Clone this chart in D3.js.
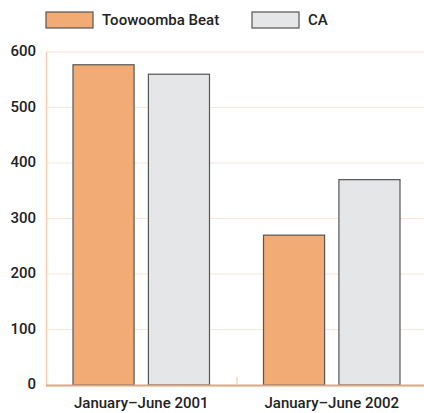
<!DOCTYPE html>
<html>
<head>
<meta charset="utf-8">
<script src="https://cdn.jsdelivr.net/npm/d3@7"></script>
<style>
  html, body { margin: 0; padding: 0; background: #fff; }
  svg { display: block; font-family: Roboto, "DejaVu Sans Condensed", sans-serif; }
</style>
</head>
<body>
<svg id="chart" width="424" height="413"></svg>
<script>
// Periods on the x axis
const periods = ["January–June 2001", "January–June 2002"];
// Series names and their values per period
const seriesNames = ["Toowoomba Beat", "CA"];
const toowoombaBeat = [577, 270];
const ca = [560, 370];
// Y axis tick values
const yTicks = [0, 100, 200, 300, 400, 500, 600];

const colors = ["#F2AB74", "#E5E6E8"];
const fontSize = 15;

const svg = d3.select("#chart");
const margin = { left: 46, top: 52, bottom: 385 };
const rightEdge = 427;

const x0 = d3.scaleBand().domain(periods).range([margin.left, rightEdge]).paddingInner(0).paddingOuter(0);
const x1 = d3.scaleBand().domain(seriesNames).range([27, x0.bandwidth() - 27]).paddingInner(0.19);
const y = d3.scaleLinear().domain([0, 600]).range([margin.bottom, margin.top]);

// Horizontal grid lines
svg.append("g")
  .selectAll("line")
  .data(yTicks.filter(d => d > 0))
  .join("line")
  .attr("x1", margin.left)
  .attr("x2", 424)
  .attr("y1", d => y(d))
  .attr("y2", d => y(d))
  .attr("stroke", "#FCE6D8")
  .attr("stroke-width", 1.2);

// Y axis line
svg.append("line")
  .attr("x1", margin.left + 0.5).attr("x2", margin.left + 0.5)
  .attr("y1", y(600)).attr("y2", y(0))
  .attr("stroke", "#F8CFAE").attr("stroke-width", 1.5);

// Y tick labels
const yAxis = d3.axisLeft(y).tickValues(yTicks).tickSize(0).tickPadding(10);
const gy = svg.append("g").attr("transform", `translate(${margin.left},0)`).call(yAxis);
gy.select(".domain").remove();
gy.selectAll("text")
  .attr("font-size", fontSize)
  .attr("font-weight", 500)
  .attr("fill", "#222")
  .attr("dy", "0.25em")
  .attr("font-family", "Roboto, sans-serif");

// Bars
const data = periods.map((p, i) => ({ period: p, values: [toowoombaBeat[i], ca[i]] }));
const groups = svg.append("g")
  .selectAll("g")
  .data(data)
  .join("g")
  .attr("transform", d => `translate(${x0(d.period)},0)`);

groups.selectAll("rect")
  .data(d => d.values.map((v, j) => ({ name: seriesNames[j], value: v, j })))
  .join("rect")
  .attr("x", d => x1(d.name))
  .attr("width", x1.bandwidth())
  .attr("y", d => y(d.value))
  .attr("height", d => y(0) - y(d.value))
  .attr("fill", d => colors[d.j])
  .attr("stroke", "#555")
  .attr("stroke-width", 1.2);

// Baseline and category separator tick
svg.append("line")
  .attr("x1", margin.left).attr("x2", 424)
  .attr("y1", y(0) + 0.5).attr("y2", y(0) + 0.5)
  .attr("stroke", "#E3A47C").attr("stroke-width", 2);
svg.append("line")
  .attr("x1", x0(periods[1]) + 0.5).attr("x2", x0(periods[1]) + 0.5)
  .attr("y1", y(0) - 8).attr("y2", y(0))
  .attr("stroke", "#F8C9A5").attr("stroke-width", 1.2);

// X category labels
const xAxis = d3.axisBottom(x0).tickSize(0).tickPadding(11);
const gx = svg.append("g").attr("transform", `translate(0,${y(0) + 1})`).call(xAxis);
gx.select(".domain").remove();
gx.selectAll("text")
  .attr("font-size", fontSize)
  .attr("font-weight", 500)
  .attr("fill", "#222")
  .attr("font-family", "Roboto, sans-serif");

// Legend
const legendX = [46, 252];
const legend = svg.append("g")
  .selectAll("g")
  .data(seriesNames)
  .join("g")
  .attr("transform", (d, i) => `translate(${legendX[i]},12)`);
legend.append("rect")
  .attr("width", 47).attr("height", 16)
  .attr("fill", (d, i) => colors[i])
  .attr("stroke", "#555").attr("stroke-width", 1.2);
legend.append("text")
  .attr("x", 56).attr("y", 12.5)
  .attr("font-size", fontSize)
  .attr("font-weight", 500)
  .attr("fill", "#222")
  .text(d => d);
</script>
</body>
</html>
